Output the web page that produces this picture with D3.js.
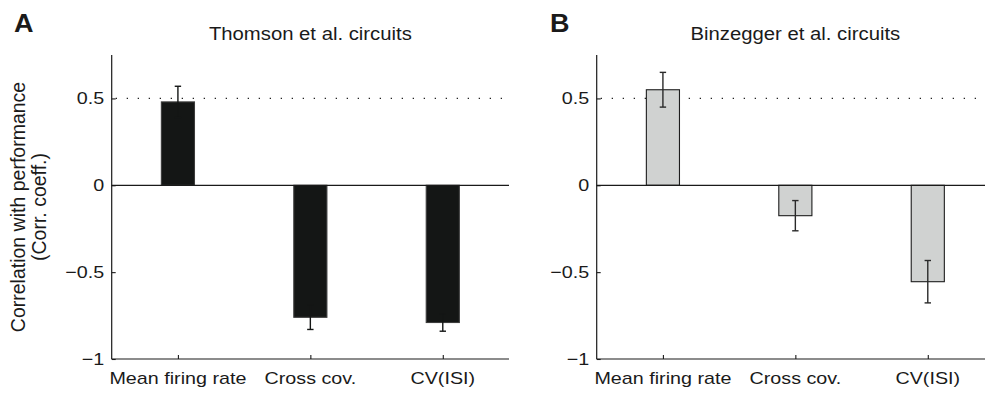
<!DOCTYPE html>
<html>
<head>
<meta charset="utf-8">
<script src="https://cdn.jsdelivr.net/npm/d3@7"></script>
<style>
  html, body { margin: 0; padding: 0; background: #fff; }
  svg { display: block; }
  text { font-family: "Liberation Sans", Arial, Helvetica, sans-serif; fill: #1a1a1a; }
</style>
</head>
<body>
<svg id="chart" width="985" height="393"></svg>
<script>
// Categories and tick labels
const categories = ["Mean firing rate", "Cross cov.", "CV(ISI)"];
const yTicks = [-1, -0.5, 0, 0.5];
const yTickLabels = ["\u22121", "\u22120.5", "0", "0.5"];

// Panel A: Thomson et al. circuits
const thomsonMeans = [0.48, -0.76, -0.79];
const thomsonErrors = [0.09, 0.07, 0.05];

// Panel B: Binzegger et al. circuits
const binzeggerMeans = [0.55, -0.175, -0.555];
const binzeggerErrors = [0.10, 0.087, 0.122];

const refLine = 0.5;

const svg = d3.select("#chart");
const yLabelLines = ["Correlation with performance", "(Corr. coeff.)"];

const panels = [
  { letter: "A", title: "Thomson et al. circuits", means: thomsonMeans, errors: thomsonErrors,
    left: 111.7, right: 509, fill: "#141615", stroke: "#3c3c3c", errColor: "#141615", letterX: 14 },
  { letter: "B", title: "Binzegger et al. circuits", means: binzeggerMeans, errors: binzeggerErrors,
    left: 596.7, right: 994, fill: "#d0d2d1", stroke: "#1e1e1e", errColor: "#2a2a2a", letterX: 550 }
];

const plotTop = 55, plotBottom = 359;
const y = d3.scaleLinear().domain([-1, 0.75]).range([plotBottom, plotTop]);
const sx = 1.16; // horizontal stretch of the lettering

function stretchedText(g, x, yPos, str, size, anchor, weight, stretch) {
  return g.append("text")
    .attr("transform", `translate(${x},${yPos}) scale(${stretch || sx},1)`)
    .attr("text-anchor", anchor)
    .style("font-size", size + "px")
    .style("font-weight", weight || "normal")
    .text(str);
}

panels.forEach(p => {
  const g = svg.append("g");
  const x = d3.scaleLinear().domain([0.5, 3.5]).range([p.left, p.right]);
  const barW = x(1.25) - x(1);
  const idx = d3.range(categories.length);

  // dotted reference line at 0.5
  g.append("line")
    .attr("x1", x(0.5) + 4).attr("x2", x(3.5))
    .attr("y1", y(refLine)).attr("y2", y(refLine))
    .attr("stroke", "#222").attr("stroke-width", 1.3)
    .attr("stroke-dasharray", "1.3,9.7");

  // bars
  g.selectAll("rect.bar").data(idx).join("rect")
    .attr("class", "bar")
    .attr("x", i => x(i + 1) - barW / 2)
    .attr("width", barW)
    .attr("y", i => y(Math.max(0, p.means[i])))
    .attr("height", i => Math.abs(y(p.means[i]) - y(0)))
    .attr("fill", p.fill)
    .attr("stroke", p.stroke).attr("stroke-width", 1.1);

  // error bars
  const capW = 3.2;
  idx.forEach(i => {
    const cx = x(i + 1);
    const lo = y(p.means[i] - p.errors[i]);
    const hi = y(p.means[i] + p.errors[i]);
    const eg = g.append("g").attr("stroke", p.errColor).attr("stroke-width", 1.4);
    eg.append("line").attr("x1", cx).attr("x2", cx).attr("y1", lo).attr("y2", hi);
    eg.append("line").attr("x1", cx - capW).attr("x2", cx + capW).attr("y1", lo).attr("y2", lo);
    eg.append("line").attr("x1", cx - capW).attr("x2", cx + capW).attr("y1", hi).attr("y2", hi);
  });

  // zero line
  g.append("line")
    .attr("x1", x(0.5)).attr("x2", x(3.5))
    .attr("y1", y(0)).attr("y2", y(0))
    .attr("stroke", "#1a1a1a").attr("stroke-width", 1.2);

  // y axis with inward ticks
  const yAxis = d3.axisRight(y).tickValues(yTicks).tickSize(4).tickFormat("");
  const ya = g.append("g").attr("transform", `translate(${x(0.5)},0)`).call(yAxis);
  ya.select(".domain").attr("d", `M0,${plotTop}V${plotBottom}`).attr("stroke", "#1a1a1a").attr("stroke-width", 1.2);
  ya.selectAll(".tick line").attr("stroke", "#1a1a1a").attr("stroke-width", 1.1);

  // x axis with inward ticks
  const xAxis = d3.axisTop(x).tickValues([1, 2, 3]).tickSize(4).tickFormat("");
  const xa = g.append("g").attr("transform", `translate(0,${plotBottom})`).call(xAxis);
  xa.select(".domain").attr("d", `M${x(0.5)},0H${x(3.5)}`).attr("stroke", "#1a1a1a").attr("stroke-width", 1.2);
  xa.selectAll(".tick line").attr("stroke", "#1a1a1a").attr("stroke-width", 1.1);

  // tick labels
  yTicks.forEach((v, k) => {
    stretchedText(g, x(0.5) - 7.5, y(v) + 6, yTickLabels[k], 17, "end");
  });
  categories.forEach((c, i) => {
    stretchedText(g, x(i + 1), 383.5, c, 17, "middle");
  });

  // title and panel letter
  stretchedText(g, (x(0.5) + x(3.5)) / 2, 39.5, p.title, 17.5, "middle");
  stretchedText(g, p.letterX, 31.5, p.letter, 25, "start", "bold", 1.08);
});

// shared y-axis label on panel A
const yl = svg.append("g").attr("transform", "translate(0,207) rotate(-90)");
yl.append("text").attr("x", 0).attr("y", 25).attr("text-anchor", "middle")
  .style("font-size", "19.5px").text(yLabelLines[0]);
yl.append("text").attr("x", 0).attr("y", 46).attr("text-anchor", "middle")
  .style("font-size", "19.5px").text(yLabelLines[1]);
</script>
</body>
</html>
